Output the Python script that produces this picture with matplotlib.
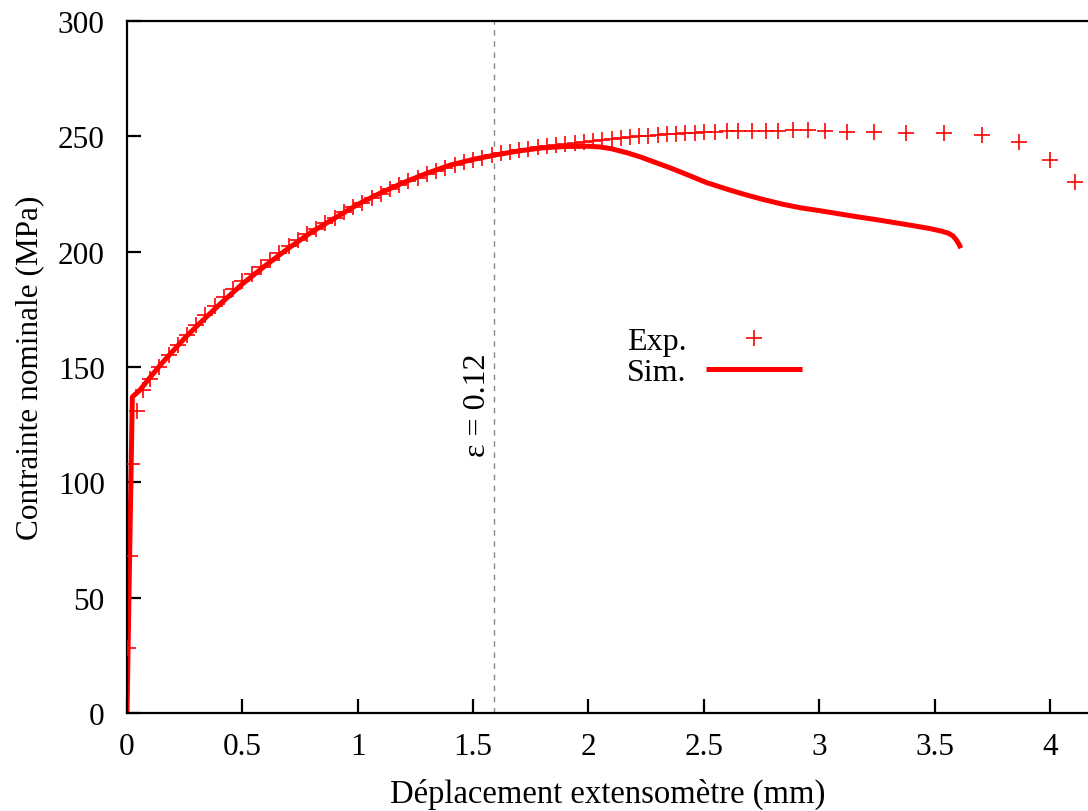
import matplotlib
matplotlib.use("Agg")
import matplotlib.pyplot as plt

plt.rcParams['font.family'] = ['Liberation Serif', 'DejaVu Serif']

# experimental points (extensometer displacement in mm, nominal stress in MPa)
exp_x = [0.003, 0.011, 0.022, 0.043, 0.07, 0.1, 0.14, 0.18, 0.22, 0.26, 0.30, 0.34, 0.38,
         0.42, 0.46, 0.50, 0.54, 0.58, 0.62, 0.66, 0.70, 0.74, 0.78, 0.82, 0.86, 0.90,
         0.94, 0.98, 1.02, 1.06, 1.10, 1.14, 1.18, 1.22, 1.26, 1.30, 1.34, 1.38, 1.42,
         1.46, 1.50, 1.54, 1.58, 1.62, 1.66, 1.70, 1.74, 1.78, 1.82, 1.86, 1.90, 1.94,
         1.98, 2.02, 2.06, 2.10, 2.14, 2.18, 2.22, 2.26, 2.30, 2.34, 2.38, 2.42, 2.46,
         2.50, 2.55, 2.60, 2.65, 2.71, 2.77, 2.82, 2.885, 2.95, 3.027, 3.12, 3.237,
         3.375, 3.54, 3.707, 3.867, 4.002, 4.108]
exp_y = [28, 68, 108, 131, 140, 145, 150, 155, 159.5, 164, 168, 172.5, 176.5,
         180.5, 184, 187.5, 190.5, 193.5, 196.5, 199.5, 202.5, 205, 207.5, 210, 212.5, 214.8,
         217, 219.2, 221.3, 223.3, 225.2, 227, 228.8, 230.5, 232, 233.5, 235, 236.3, 237.5,
         238.7, 239.8, 240.8, 241.8, 242.6, 243.4, 244.1, 244.7, 245.3, 245.8, 246.3, 246.8, 247.2,
         247.6, 248, 248.4, 248.8, 249.2, 249.6, 250, 250.3, 250.6, 250.9, 251.2, 251.4, 251.6,
         251.8, 252, 252.1, 252.2, 252.3, 252.4, 252.4, 252.7, 252.7, 252.2, 251.9, 251.7,
         251.6, 251.6, 250.6, 247.4, 239.9, 230.3]

# simulation curve
sim_x = [0, 0.023, 0.056, 0.1, 0.15, 0.2, 0.25, 0.3, 0.4, 0.5, 0.6, 0.7, 0.8, 0.9, 1.0,
         1.1, 1.2, 1.3, 1.4, 1.5, 1.6, 1.7, 1.8, 1.9, 2.0, 2.05, 2.1, 2.17, 2.23, 2.3,
         2.35, 2.43, 2.51, 2.6, 2.67, 2.75, 2.84, 2.92, 3.0, 3.08, 3.16, 3.24, 3.32, 3.4,
         3.48, 3.53, 3.56, 3.58, 3.595, 3.607, 3.614]
sim_y = [0, 137, 140, 145.5, 151.5, 157, 162.5, 167.5, 177, 186, 194, 201.5, 208.5, 214.5, 220.5,
         225.5, 230, 234, 237.5, 240, 242, 243.7, 245, 245.6, 245.7, 245.4, 244.6, 242.8, 240.9, 238.3,
         236.5, 233.3, 230, 227.1, 225, 222.8, 220.6, 219, 217.8, 216.5, 215.2, 214, 212.7, 211.4,
         210, 208.9, 208, 206.8, 205, 203, 201.5]

eps_x = 1.59
eps_label = 'ε = 0.12'

fig = plt.figure(figsize=(10.88, 8.12), dpi=100)
ax = fig.add_axes([127 / 1088, 1 - 714 / 812, 1 - 127 / 1088, (714 - 22) / 812])

ax.axvline(eps_x, color='#888888', lw=1, ls=(0, (4, 4)), zorder=1)
ax.plot(exp_x, exp_y, ls='none', marker='+', ms=11, mew=1.2, color='red', label='Exp.', zorder=3)
ax.plot(sim_x, sim_y, color='red', lw=3.6, solid_capstyle='butt', label='Sim.', zorder=2)

ax.text(1.521, 134, eps_label, rotation=90, ha='center', va='center', fontsize=23)

ax.set_xlim(0, 4.165)
ax.set_ylim(0, 300)
ax.set_xticks([0, 0.5, 1, 1.5, 2, 2.5, 3, 3.5, 4])
ax.set_xticklabels(['0', '0.5', '1', '1.5', '2', '2.5', '3', '3.5', '4'])
ax.set_yticks([0, 50, 100, 150, 200, 250, 300])

ax.spines['right'].set_visible(False)
for s in ['left', 'bottom', 'top']:
    ax.spines[s].set_linewidth(1.6)
ax.tick_params(direction='in', length=10, width=1.6, labelsize=22.5, pad=14)
ax.tick_params(axis='y', pad=16)

ax.set_xlabel('Déplacement extensomètre (mm)', fontsize=23.5, labelpad=12)
ax.set_ylabel('Contrainte nominale (MPa)', fontsize=22.5, labelpad=10)

ax.legend(loc='upper left', bbox_to_anchor=(627 / 1088, 1 - 328 / 812), bbox_transform=fig.transFigure,
          frameon=False, markerfirst=False, fontsize=23, handlelength=3.0, handletextpad=0.6,
          labelspacing=0.05, borderpad=0, borderaxespad=0)

fig.savefig('out.png', dpi=100)
